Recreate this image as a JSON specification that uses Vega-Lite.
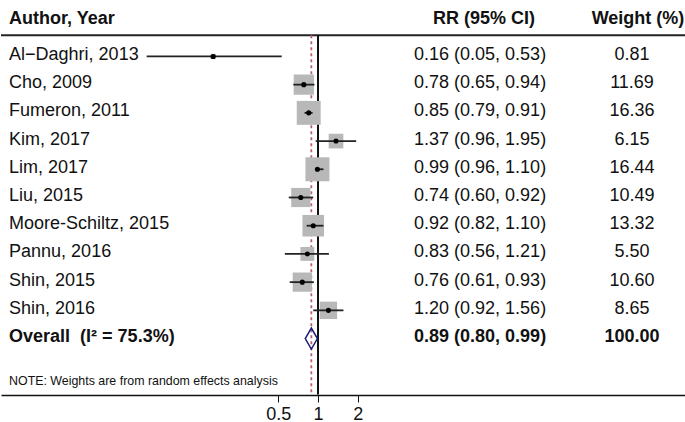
{
  "$schema": "https://vega.github.io/schema/vega-lite/v6.json",
  "width": 685,
  "height": 395,
  "padding": 0,
  "background": "white",
  "config": {
    "view": {"stroke": null},
    "font": "Liberation Sans",
    "text": {"font": "Liberation Sans", "fontSize": 18, "color": "#111111", "baseline": "middle", "dy": -1.5}
  },
  "datasets": {
    "studies": [
      {"row": 1, "study": "Al−Daghri, 2013", "rr": 0.16, "lo": 0.05, "hi": 0.53, "weight": 0.81, "ci": "0.16 (0.05, 0.53)", "wt": "0.81"},
      {"row": 2, "study": "Cho, 2009", "rr": 0.78, "lo": 0.65, "hi": 0.94, "weight": 11.69, "ci": "0.78 (0.65, 0.94)", "wt": "11.69"},
      {"row": 3, "study": "Fumeron, 2011", "rr": 0.85, "lo": 0.79, "hi": 0.91, "weight": 16.36, "ci": "0.85 (0.79, 0.91)", "wt": "16.36"},
      {"row": 4, "study": "Kim, 2017", "rr": 1.37, "lo": 0.96, "hi": 1.95, "weight": 6.15, "ci": "1.37 (0.96, 1.95)", "wt": "6.15"},
      {"row": 5, "study": "Lim, 2017", "rr": 0.99, "lo": 0.96, "hi": 1.10, "weight": 16.44, "ci": "0.99 (0.96, 1.10)", "wt": "16.44"},
      {"row": 6, "study": "Liu, 2015", "rr": 0.74, "lo": 0.60, "hi": 0.92, "weight": 10.49, "ci": "0.74 (0.60, 0.92)", "wt": "10.49"},
      {"row": 7, "study": "Moore-Schiltz, 2015", "rr": 0.92, "lo": 0.82, "hi": 1.10, "weight": 13.32, "ci": "0.92 (0.82, 1.10)", "wt": "13.32"},
      {"row": 8, "study": "Pannu, 2016", "rr": 0.83, "lo": 0.56, "hi": 1.21, "weight": 5.50, "ci": "0.83 (0.56, 1.21)", "wt": "5.50"},
      {"row": 9, "study": "Shin, 2015", "rr": 0.76, "lo": 0.61, "hi": 0.93, "weight": 10.60, "ci": "0.76 (0.61, 0.93)", "wt": "10.60"},
      {"row": 10, "study": "Shin, 2016", "rr": 1.20, "lo": 0.92, "hi": 1.56, "weight": 8.65, "ci": "1.20 (0.92, 1.56)", "wt": "8.65"}
    ],
    "overall": [
      {"row": 11, "study": "Overall\u00a0\u00a0(I² = 75.3%)", "rr": 0.89, "lo": 0.80, "hi": 0.99, "weight": 100, "ci": "0.89 (0.80, 0.99)", "wt": "100.00"}
    ]
  },
  "layer": [
    {
      "data": {"name": "overall"},
      "mark": {"type": "rule", "color": "#222222", "strokeWidth": 2},
      "encoding": {
        "y": {"datum": 0.247, "type": "quantitative", "scale": {"domain": [-0.8, 12.98], "reverse": true}, "axis": null}
      }
    },
    {
      "data": {"name": "overall"},
      "mark": {"type": "rule", "color": "#111111", "strokeWidth": 2},
      "encoding": {
        "x": {"datum": 1, "type": "quantitative", "scale": {"type": "log", "domain": [0.003917, 622.6], "nice": false}, "axis": {"values": [0.5, 1, 2], "format": "~g", "title": null, "grid": false, "domainColor": "#111111", "domainWidth": 1.5, "tickColor": "#111111", "tickWidth": 1, "tickSize": 7, "labelFont": "Liberation Sans", "labelFontSize": 18, "labelColor": "#111111", "labelPadding": 3, "labelFlush": false}},
        "y": {"datum": 0.247, "type": "quantitative"},
        "y2": {"datum": 12.98}
      }
    },
    {
      "data": {"name": "overall"},
      "mark": {"type": "rule", "color": "#b9606c", "strokeWidth": 1.8, "strokeDash": [3, 3]},
      "encoding": {
        "x": {"field": "rr", "type": "quantitative"},
        "y": {"datum": 0.247, "type": "quantitative"},
        "y2": {"datum": 12.98}
      }
    },
    {
      "data": {"name": "studies"},
      "mark": {"type": "point", "shape": "square", "filled": true, "color": "#b8b8b8", "opacity": 1},
      "encoding": {
        "x": {"field": "rr", "type": "quantitative"},
        "y": {"field": "row", "type": "quantitative"},
        "size": {"field": "weight", "type": "quantitative", "scale": {"type": "linear", "domain": [0, 20], "range": [0, 700], "zero": true}, "legend": null}
      }
    },
    {
      "data": {"name": "studies"},
      "mark": {"type": "rule", "color": "#222222", "strokeWidth": 1.8},
      "encoding": {
        "x": {"field": "lo", "type": "quantitative"},
        "x2": {"field": "hi"},
        "y": {"field": "row", "type": "quantitative"}
      }
    },
    {
      "data": {"name": "studies"},
      "mark": {"type": "point", "shape": "circle", "filled": true, "color": "#000000", "size": 26, "opacity": 1},
      "encoding": {
        "x": {"field": "rr", "type": "quantitative"},
        "y": {"field": "row", "type": "quantitative"}
      }
    },
    {
      "data": {"name": "overall"},
      "mark": {"type": "point", "shape": "M-0.58,0L0,-1L0.58,0L0,1Z", "filled": false, "stroke": "#1c1c7a", "strokeWidth": 1.5, "size": 441, "opacity": 1},
      "encoding": {
        "x": {"field": "rr", "type": "quantitative"},
        "y": {"field": "row", "type": "quantitative"}
      }
    },
    {
      "data": {"name": "studies"},
      "mark": {"type": "text", "align": "left"},
      "encoding": {
        "x": {"datum": 0.00451, "type": "quantitative"},
        "y": {"field": "row", "type": "quantitative"},
        "text": {"field": "study"}
      }
    },
    {
      "data": {"name": "studies"},
      "mark": {"type": "text", "align": "left"},
      "encoding": {
        "x": {"datum": 5.36, "type": "quantitative"},
        "y": {"field": "row", "type": "quantitative"},
        "text": {"field": "ci"}
      }
    },
    {
      "data": {"name": "studies"},
      "mark": {"type": "text", "align": "center"},
      "encoding": {
        "x": {"datum": 242.2, "type": "quantitative"},
        "y": {"field": "row", "type": "quantitative"},
        "text": {"field": "wt"}
      }
    },
    {
      "data": {"name": "overall"},
      "mark": {"type": "text", "align": "left", "fontWeight": "bold"},
      "encoding": {
        "x": {"datum": 0.00451, "type": "quantitative"},
        "y": {"field": "row", "type": "quantitative"},
        "text": {"field": "study"}
      }
    },
    {
      "data": {"name": "overall"},
      "mark": {"type": "text", "align": "left", "fontWeight": "bold"},
      "encoding": {
        "x": {"datum": 5.36, "type": "quantitative"},
        "y": {"field": "row", "type": "quantitative"},
        "text": {"field": "ci"}
      }
    },
    {
      "data": {"name": "overall"},
      "mark": {"type": "text", "align": "center", "fontWeight": "bold"},
      "encoding": {
        "x": {"datum": 242.2, "type": "quantitative"},
        "y": {"field": "row", "type": "quantitative"},
        "text": {"field": "wt"}
      }
    },
    {
      "data": {"values": [
        {"col": "Author, Year", "pos": 0.00451, "al": "left"},
        {"col": "RR (95% CI)", "pos": 18.2, "al": "center"},
        {"col": "Weight (%)", "pos": 269, "al": "center"}
      ]},
      "mark": {"type": "text", "fontWeight": "bold", "align": {"expr": "datum.al"}},
      "encoding": {
        "x": {"field": "pos", "type": "quantitative"},
        "y": {"datum": -0.277, "type": "quantitative"},
        "text": {"field": "col"}
      }
    },
    {
      "data": {"values": [{"note": "NOTE: Weights are from random effects analysis"}]},
      "mark": {"type": "text", "align": "left", "fontSize": 12.4},
      "encoding": {
        "x": {"datum": 0.00451, "type": "quantitative"},
        "y": {"datum": 12.56, "type": "quantitative"},
        "text": {"field": "note"}
      }
    }
  ]
}
